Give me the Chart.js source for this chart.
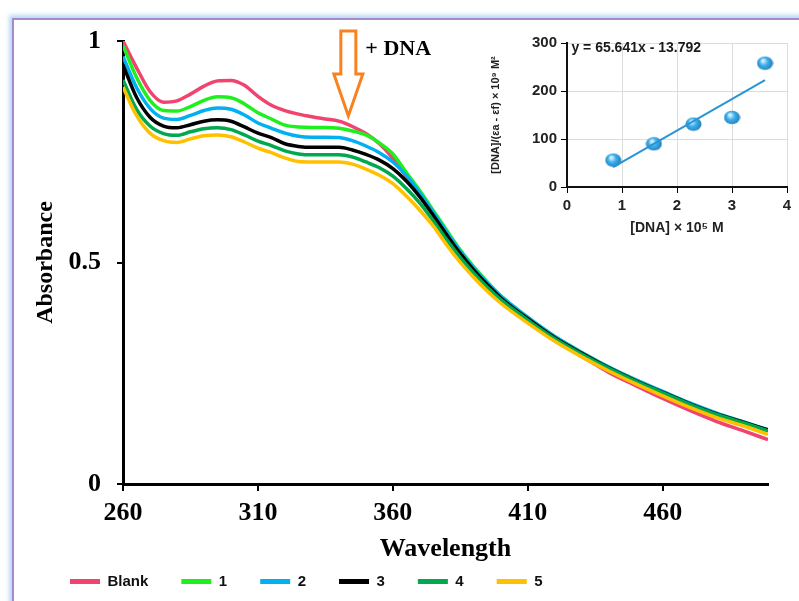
<!DOCTYPE html>
<html><head><meta charset="utf-8">
<script src="https://cdn.jsdelivr.net/npm/chart.js@4.4.0/dist/chart.umd.min.js"></script>
<style>
html,body{margin:0;padding:0;background:#fff;width:799px;height:601px;overflow:hidden;}
#frame{position:absolute;left:12px;top:18px;width:830px;height:640px;border-left:2px solid #a58bc9;border-top:2px solid #a58bc9;box-shadow:-3px -3px 4px #b9d9f7;}
#main{position:absolute;left:0;top:0;}
#inset{position:absolute;left:480px;top:25px;}
</style></head><body>
<div id="frame"></div>
<canvas id="main" width="799" height="601"></canvas>
<canvas id="inset" width="319" height="225"></canvas>
<script>
// ---------- main spectrum data ----------
const wavelengths = [260,265,270,275,280,285,290,295,300,305,310,315,320,325,330,335,340,345,350,355,360,365,370,375,380,385,390,395,400,410,420,430,440,450,460,470,480,490,499];
const seriesNames = ['Blank','1','2','3','4','5'];
const seriesColors = ['#f0436f','#1ef01e','#00b0f0','#000000','#00a84f','#ffc000'];
const blank = [1.000,0.940,0.886,0.862,0.865,0.880,0.898,0.910,0.911,0.900,0.875,0.855,0.843,0.835,0.829,0.824,0.819,0.807,0.791,0.768,0.735,0.694,0.652,0.606,0.560,0.517,0.479,0.446,0.416,0.368,0.324,0.288,0.252,0.222,0.193,0.166,0.141,0.120,0.100];
const s1 = [0.990,0.918,0.866,0.843,0.842,0.852,0.866,0.874,0.872,0.858,0.838,0.824,0.810,0.806,0.805,0.805,0.803,0.797,0.788,0.770,0.745,0.703,0.662,0.617,0.572,0.528,0.490,0.456,0.425,0.376,0.333,0.297,0.264,0.235,0.208,0.182,0.159,0.140,0.121];
const s2 = [0.965,0.895,0.848,0.826,0.823,0.832,0.843,0.849,0.846,0.833,0.815,0.803,0.792,0.785,0.783,0.783,0.782,0.775,0.763,0.748,0.727,0.696,0.657,0.613,0.568,0.525,0.487,0.454,0.424,0.376,0.333,0.297,0.264,0.235,0.209,0.183,0.160,0.140,0.122];
const s3 = [0.946,0.873,0.828,0.808,0.804,0.811,0.819,0.822,0.819,0.806,0.792,0.782,0.768,0.762,0.760,0.760,0.760,0.754,0.744,0.731,0.712,0.684,0.648,0.606,0.562,0.520,0.483,0.450,0.420,0.373,0.330,0.295,0.262,0.233,0.207,0.181,0.158,0.139,0.122];
const s4 = [0.912,0.846,0.808,0.791,0.787,0.795,0.802,0.804,0.800,0.788,0.774,0.764,0.752,0.745,0.743,0.743,0.743,0.738,0.727,0.714,0.695,0.667,0.634,0.594,0.551,0.511,0.476,0.444,0.416,0.370,0.328,0.293,0.261,0.232,0.206,0.180,0.157,0.138,0.120];
const s5 = [0.896,0.832,0.792,0.775,0.771,0.779,0.786,0.788,0.784,0.772,0.758,0.748,0.736,0.728,0.727,0.727,0.727,0.722,0.711,0.697,0.678,0.650,0.618,0.582,0.539,0.500,0.466,0.435,0.408,0.363,0.322,0.287,0.255,0.226,0.199,0.173,0.150,0.131,0.112];
const xTickValues = [260,310,360,410,460];
const yTickValues = [0,0.5,1];

// ---------- inset data ----------
const dnaConc = [0.84,1.58,2.30,3.00,3.60];
const ratioVals = [56,90,131,145,258];
const trendX = [0.84,3.60];
const trendY = [41.3,222.5];
const insetXTicks = [0,1,2,3,4];
const insetYTicks = [0,100,200,300];
const equationText = 'y = 65.641x - 13.792';

const allSeries = [blank,s1,s2,s3,s4,s5];
const serif = '"Liberation Serif","Times New Roman",serif';
const sans = '"Liberation Sans",Arial,sans-serif';

const arrowPlugin = {
  id: 'arrowNote',
  afterDraw(chart) {
    const {ctx, scales:{x,y}} = chart;
    const cx = x.getPixelForValue(343.5);
    const yTop = y.getPixelForValue(1.0226);
    const yNeck = y.getPixelForValue(0.9255);
    const yTip = y.getPixelForValue(0.8307);
    ctx.save();
    ctx.strokeStyle = '#f7821f';
    ctx.lineWidth = 3;
    ctx.lineJoin = 'miter';
    ctx.fillStyle = '#ffffff';
    ctx.beginPath();
    ctx.moveTo(cx-7.5, yTop);
    ctx.lineTo(cx+7.5, yTop);
    ctx.lineTo(cx+7.5, yNeck);
    ctx.lineTo(cx+14.5, yNeck);
    ctx.lineTo(cx, yTip);
    ctx.lineTo(cx-14.5, yNeck);
    ctx.lineTo(cx-7.5, yNeck);
    ctx.closePath();
    ctx.fill();
    ctx.stroke();
    ctx.fillStyle = '#000';
    ctx.font = 'bold 22px ' + serif;
    ctx.textBaseline = 'middle';
    ctx.textAlign = 'left';
    ctx.fillText('+ DNA', cx + 17, y.getPixelForValue(0.982));
    ctx.restore();
  }
};

new Chart(document.getElementById('main'), {
  type: 'line',
  data: {
    datasets: allSeries.map((arr, i) => ({
      label: seriesNames[i],
      data: wavelengths.map((w, j) => ({x: w, y: arr[j]})),
      borderColor: seriesColors[i],
      backgroundColor: seriesColors[i],
      borderWidth: 3.5,
      pointRadius: 0,
      cubicInterpolationMode: 'monotone',
      fill: false
    })).reverse()
  },
  options: {
    responsive: false,
    animation: false,
    devicePixelRatio: 1,
    layout: {padding: {left: 37, right: 31, top: 41, bottom: 2}},
    plugins: {
      tooltip: {enabled: false},
      legend: {
        position: 'bottom',
        align: 'start',
        reverse: true,
        labels: {
          boxWidth: 30,
          boxHeight: 5,
          padding: 33,
          color: '#111',
          font: {family: sans, size: 15, weight: 'bold'},
          generateLabels: (chart) => Chart.defaults.plugins.legend.labels.generateLabels(chart).map(l => ({...l, lineWidth: 0, fillStyle: l.strokeStyle}))
        }
      }
    },
    scales: {
      x: {
        type: 'linear',
        min: 260,
        max: 499,
        afterBuildTicks: s => { s.ticks = xTickValues.map(v => ({value: v})); },
        afterFit: s => { s.height = 57; },
        grid: {display: true, drawOnChartArea: false, drawTicks: true, tickLength: 7, color: '#000', tickColor: '#000', lineWidth: 2},
        border: {display: true, color: '#000', width: 3},
        ticks: {color: '#000', padding: 9, font: {family: serif, size: 26, weight: 'bold', lineHeight: 1}, callback: v => String(v), maxRotation: 0},
        title: {display: true, text: 'Wavelength', color: '#000', font: {family: serif, size: 26, weight: 'bold', lineHeight: 1}, padding: {top: 0, bottom: -21}}
      },
      y: {
        type: 'linear',
        min: 0,
        max: 1,
        afterBuildTicks: s => { s.ticks = yTickValues.map(v => ({value: v})); },
        afterFit: s => { s.width = 86; },
        grid: {display: true, drawOnChartArea: false, drawTicks: true, tickLength: 6, color: '#000', tickColor: '#000', lineWidth: 2},
        border: {display: true, color: '#000', width: 3},
        ticks: {color: '#000', padding: 16, font: {family: serif, size: 26, weight: 'bold', lineHeight: 1}, callback: v => String(v)},
        title: {display: true, text: 'Absorbance', color: '#000', font: {family: serif, size: 24, weight: 'bold', lineHeight: 1}, padding: {top: -3, bottom: 0}}
      }
    }
  },
  plugins: [arrowPlugin]
});

// sphere marker image
function sphere() {
  const c = document.createElement('canvas');
  c.width = 17; c.height = 15;
  const g = c.getContext('2d');
  const grad = g.createRadialGradient(6.5, 5, 1, 8.5, 7.5, 9.5);
  grad.addColorStop(0, '#d2f0ff');
  grad.addColorStop(0.35, '#3fb0ec');
  grad.addColorStop(1, '#1a70aa');
  g.fillStyle = grad;
  g.beginPath();
  g.ellipse(8.5, 7.5, 8, 6.8, 0, 0, Math.PI * 2);
  g.fill();
  return c;
}

const equationPlugin = {
  id: 'equation',
  afterDraw(chart) {
    const {ctx, scales:{x,y}} = chart;
    ctx.save();
    ctx.fillStyle = '#1a1a1a';
    ctx.font = 'bold 14px ' + sans;
    ctx.textBaseline = 'middle';
    ctx.textAlign = 'left';
    ctx.fillText(equationText, x.getPixelForValue(0.08), y.getPixelForValue(289));
    ctx.restore();
  }
};

new Chart(document.getElementById('inset'), {
  type: 'scatter',
  data: {
    datasets: [
      {
        label: 'trend',
        data: trendX.map((v, i) => ({x: v, y: trendY[i]})),
        showLine: true,
        borderColor: '#2a95d3',
        borderWidth: 2,
        pointRadius: 0
      },
      {
        label: 'points',
        data: dnaConc.map((v, i) => ({x: v, y: ratioVals[i]})),
        pointStyle: sphere(),
        pointRadius: 7,
        showLine: false
      }
    ]
  },
  options: {
    responsive: false,
    animation: false,
    devicePixelRatio: 1,
    layout: {padding: {left: 0, right: 12, top: 18, bottom: 0}},
    plugins: {legend: {display: false}, tooltip: {enabled: false}},
    scales: {
      x: {
        type: 'linear', min: 0, max: 4,
        afterBuildTicks: s => { s.ticks = insetXTicks.map(v => ({value: v})); },
        afterFit: s => { s.height = 63; },
        grid: {color: '#dcdcdc', lineWidth: 1, tickColor: '#000', tickLength: 6, drawTicks: true},
        border: {display: true, color: '#111', width: 2},
        ticks: {color: '#222', padding: 5, font: {family: sans, size: 15, weight: 'bold', lineHeight: 1}},
        title: {display: true, text: '[DNA] × 10⁵ M', color: '#222', font: {family: sans, size: 14, weight: 'bold', lineHeight: 1.2}, padding: {top: 0, bottom: 13}}
      },
      y: {
        type: 'linear', min: 0, max: 300,
        afterBuildTicks: s => { s.ticks = insetYTicks.map(v => ({value: v})); },
        afterFit: s => { s.width = 87; },
        grid: {color: '#dcdcdc', lineWidth: 1, tickColor: '#000', tickLength: 6, drawTicks: true},
        border: {display: true, color: '#111', width: 2},
        ticks: {color: '#222', padding: 4, font: {family: sans, size: 15, weight: 'bold', lineHeight: 1}},
        title: {display: true, text: '[DNA]/(εa - εf) × 10⁹ M²', color: '#222', font: {family: sans, size: 11, weight: 'bold', lineHeight: 1.2}, padding: {top: 9, bottom: 0}}
      }
    }
  },
  plugins: [equationPlugin]
});
</script>
</body></html>
